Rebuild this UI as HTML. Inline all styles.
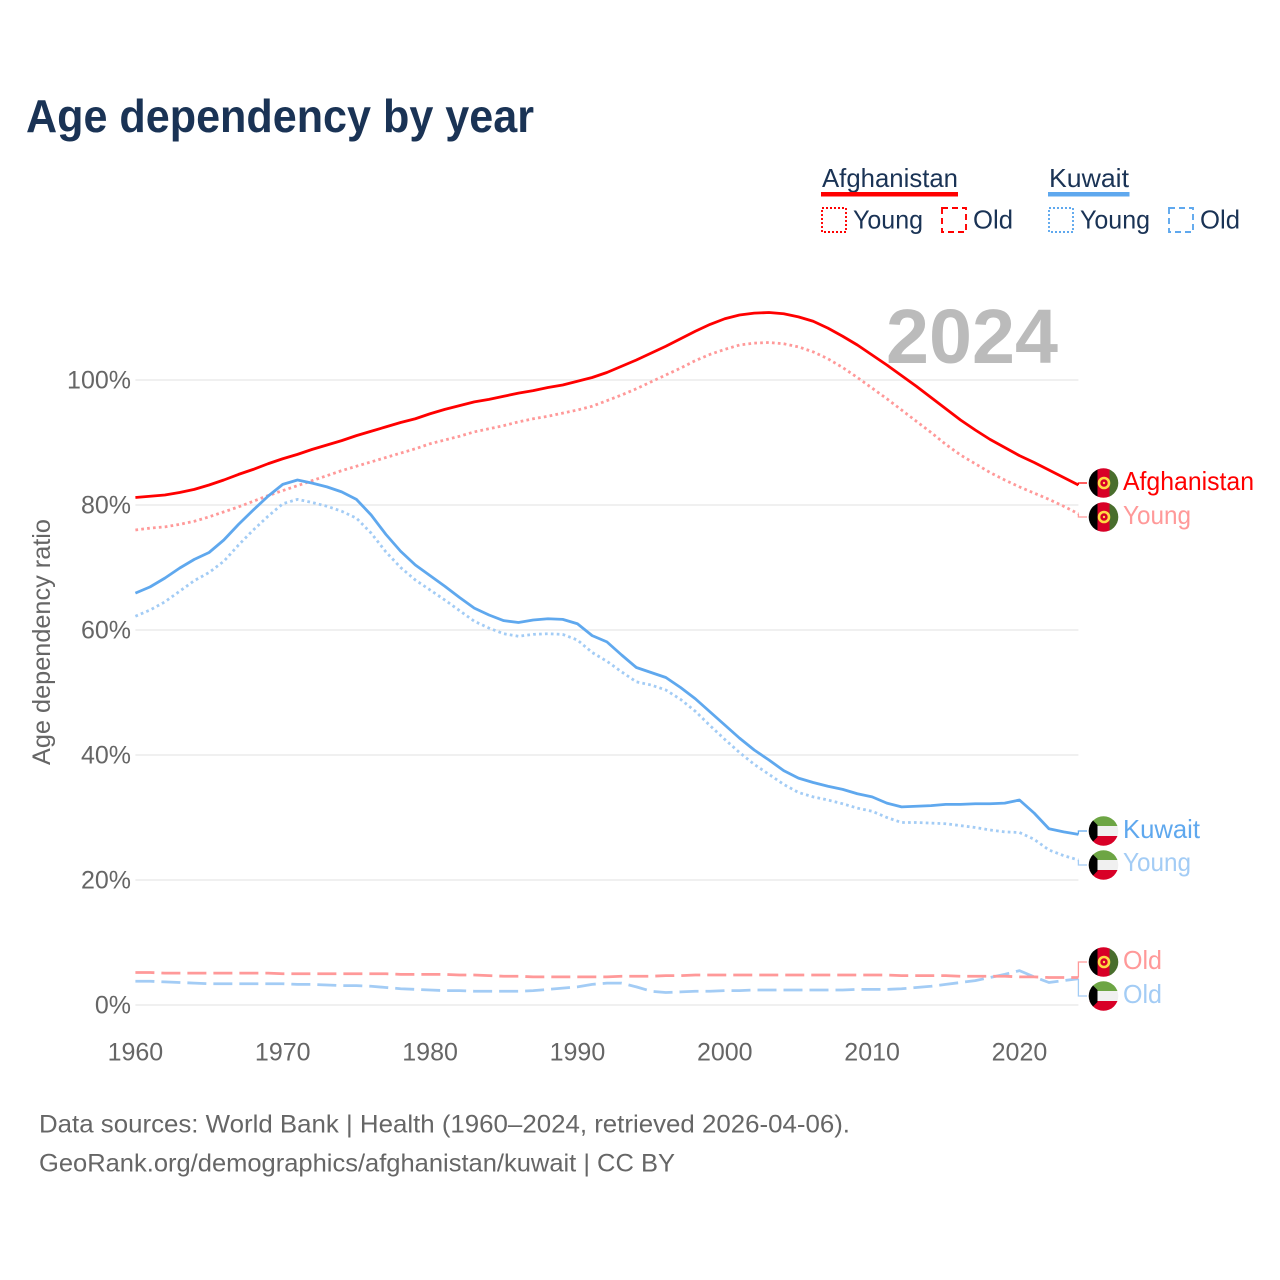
<!DOCTYPE html>
<html lang="en">
<head>
<meta charset="utf-8">
<title>Age dependency by year</title>
<style>
html,body{margin:0;padding:0;background:#fff}
svg{display:block}
text{font-family:"Liberation Sans",sans-serif}
</style>
</head>
<body>
<svg id="chart" xmlns="http://www.w3.org/2000/svg" width="1280" height="1280" viewBox="0 0 1280 1280">
  <defs>
    <clipPath id="flag-clip"><circle cx="0" cy="0" r="14.8"/></clipPath>
    <g id="flag-af" clip-path="url(#flag-clip)">
      <rect x="-15" y="-15" width="10" height="30" fill="#000"/>
      <rect x="-6" y="-15" width="13" height="30" fill="#d80027"/>
      <rect x="6" y="-15" width="9" height="30" fill="#496e2d"/>
      <circle cx="0.5" cy="0" r="5" fill="none" stroke="#ffda44" stroke-width="2.6"/>
      <circle cx="0.5" cy="0" r="1.2" fill="#ffda44"/>
    </g>
    <g id="flag-kw" clip-path="url(#flag-clip)">
      <rect x="-15" y="-15" width="30" height="10" fill="#6da544"/>
      <rect x="-15" y="-5" width="30" height="10" fill="#f0f0f0"/>
      <rect x="-15" y="5" width="30" height="10" fill="#d80027"/>
      <polygon points="-15,-15 -6,-6 -6,6 -15,15" fill="#000"/>
    </g>
  </defs>

  <text x="26" y="132" font-size="46" font-weight="700" fill="#1a3355" textLength="508" lengthAdjust="spacingAndGlyphs">Age dependency by year</text>

  <g font-size="26" fill="#1a3355">
    <text x="822" y="187" textLength="136" lengthAdjust="spacingAndGlyphs">Afghanistan</text>
    <rect x="821" y="192" width="137" height="4.5" fill="#ff0000"/>
    <rect x="822" y="208" width="24" height="24" fill="none" stroke="#ff0000" stroke-width="1.9" stroke-dasharray="2 2"/>
    <text x="853" y="228.500" textLength="70" lengthAdjust="spacingAndGlyphs">Young</text>
    <rect x="942" y="208" width="24" height="24" fill="none" stroke="#ff0000" stroke-width="1.9" stroke-dasharray="6 4"/>
    <text x="973" y="228.500" textLength="40" lengthAdjust="spacingAndGlyphs">Old</text>
    <text x="1049" y="187" textLength="80" lengthAdjust="spacingAndGlyphs">Kuwait</text>
    <rect x="1048" y="192" width="81.500" height="4.5" fill="#5fa8ee"/>
    <rect x="1049" y="208" width="24" height="24" fill="none" stroke="#5fa8ee" stroke-width="1.9" stroke-dasharray="2 2"/>
    <text x="1080" y="228.500" textLength="70" lengthAdjust="spacingAndGlyphs">Young</text>
    <rect x="1169" y="208" width="24" height="24" fill="none" stroke="#5fa8ee" stroke-width="1.9" stroke-dasharray="6 4"/>
    <text x="1200" y="228.500" textLength="40" lengthAdjust="spacingAndGlyphs">Old</text>
  </g>

  <g id="grid"></g>
  <text x="1058" y="363" font-size="77" font-weight="700" fill="#bbbbbb" text-anchor="end" textLength="172" lengthAdjust="spacingAndGlyphs">2024</text>
  <text transform="translate(50 642) rotate(-90)" font-size="25" fill="#666666" text-anchor="middle" textLength="246" lengthAdjust="spacingAndGlyphs">Age dependency ratio</text>
  <g id="y-ticks" font-size="25" fill="#666666" text-anchor="end"></g>
  <g id="x-ticks" font-size="25" fill="#666666" text-anchor="middle"></g>
  <g id="series" fill="none" stroke-linejoin="round"></g>
  <g id="connectors" fill="none"></g>

  <g font-size="26">
    <use href="#flag-af" x="1103.5" y="483"/>
    <text x="1123" y="490" fill="#ff0000" textLength="131" lengthAdjust="spacingAndGlyphs">Afghanistan</text>
    <use href="#flag-af" x="1103.5" y="517"/>
    <text x="1123" y="524" fill="#ff9999" textLength="68" lengthAdjust="spacingAndGlyphs">Young</text>
    <use href="#flag-kw" x="1103.5" y="831"/>
    <text x="1123" y="838" fill="#5fa8ee" textLength="77" lengthAdjust="spacingAndGlyphs">Kuwait</text>
    <use href="#flag-kw" x="1103.5" y="865"/>
    <text x="1123" y="871" fill="#a3ccf5" textLength="68" lengthAdjust="spacingAndGlyphs">Young</text>
    <use href="#flag-af" x="1103.5" y="962"/>
    <text x="1123" y="969" fill="#ff9999" textLength="39" lengthAdjust="spacingAndGlyphs">Old</text>
    <use href="#flag-kw" x="1103.5" y="996"/>
    <text x="1123" y="1003" fill="#a3ccf5" textLength="39" lengthAdjust="spacingAndGlyphs">Old</text>
  </g>

  <text x="39" y="1132.500" font-size="25" fill="#666666" textLength="811" lengthAdjust="spacingAndGlyphs">Data sources: World Bank | Health (1960–2024, retrieved 2026-04-06).</text>
  <text x="39" y="1171.500" font-size="25" fill="#666666" textLength="636" lengthAdjust="spacingAndGlyphs">GeoRank.org/demographics/afghanistan/kuwait | CC BY</text>
</svg>
<script>
const startYear = 1960;
const endYear = 2024;
const yTickValues = [0, 20, 40, 60, 80, 100];
const yTickLabels = ["0%", "20%", "40%", "60%", "80%", "100%"];
const xTickValues = [1960, 1970, 1980, 1990, 2000, 2010, 2020];
const xTickLabels = ["1960", "1970", "1980", "1990", "2000", "2010", "2020"];

const afghanistanTotal = [81.2,81.4,81.6,82.0,82.5,83.2,84.0,84.9,85.7,86.6,87.4,88.1,88.9,89.6,90.3,91.1,91.8,92.5,93.2,93.8,94.6,95.3,95.9,96.5,96.9,97.4,97.9,98.3,98.8,99.2,99.8,100.4,101.2,102.2,103.2,104.3,105.4,106.6,107.8,108.9,109.8,110.4,110.7,110.8,110.6,110.1,109.4,108.3,107.0,105.6,104.0,102.4,100.7,99.0,97.2,95.4,93.6,92.0,90.5,89.2,87.9,86.8,85.6,84.4,83.2];
const afghanistanYoung = [76.0,76.3,76.5,76.9,77.4,78.1,78.9,79.7,80.6,81.5,82.3,83.1,83.9,84.7,85.5,86.2,86.9,87.6,88.3,89.0,89.8,90.4,91.0,91.7,92.2,92.7,93.3,93.8,94.2,94.7,95.2,95.8,96.7,97.6,98.6,99.7,100.8,101.9,103.1,104.1,104.9,105.6,105.9,106.0,105.8,105.3,104.5,103.4,102.0,100.4,98.7,97.0,95.2,93.4,91.6,89.7,88.0,86.6,85.2,84.0,82.9,81.9,80.9,79.8,78.6];
const afghanistanOld = [5.2,5.2,5.1,5.1,5.1,5.1,5.1,5.1,5.1,5.1,5.0,5.0,5.0,5.0,5.0,5.0,5.0,5.0,4.9,4.9,4.9,4.9,4.8,4.8,4.7,4.6,4.6,4.5,4.5,4.5,4.5,4.5,4.5,4.6,4.6,4.6,4.7,4.7,4.8,4.8,4.8,4.8,4.8,4.8,4.8,4.8,4.8,4.8,4.8,4.8,4.8,4.8,4.7,4.7,4.7,4.7,4.6,4.6,4.6,4.6,4.5,4.5,4.4,4.4,4.4];
const kuwaitTotal = [65.9,66.9,68.3,69.9,71.3,72.4,74.4,76.9,79.2,81.4,83.3,84.0,83.5,82.9,82.1,80.9,78.4,75.3,72.6,70.4,68.7,67.0,65.2,63.5,62.4,61.5,61.2,61.6,61.8,61.7,61.0,59.1,58.1,56.0,54.0,53.2,52.4,50.8,49.0,46.9,44.8,42.7,40.8,39.2,37.5,36.3,35.6,35.0,34.5,33.8,33.3,32.3,31.7,31.8,31.9,32.1,32.1,32.2,32.2,32.3,32.8,30.7,28.2,27.7,27.3];
const kuwaitYoung = [62.2,63.2,64.5,66.2,67.9,69.2,71.0,73.6,76.0,78.2,80.2,80.9,80.4,79.8,79.0,77.9,75.5,72.5,70.0,68.0,66.4,64.8,63.1,61.4,60.3,59.4,59.0,59.3,59.4,59.3,58.4,56.4,55.0,53.3,51.7,51.2,50.4,48.9,47.0,44.7,42.5,40.4,38.5,36.9,35.3,34.0,33.3,32.8,32.2,31.5,31.0,30.0,29.2,29.2,29.1,29.0,28.7,28.4,28.0,27.7,27.6,26.5,24.8,23.9,23.2];
const kuwaitOld = [3.8,3.8,3.7,3.6,3.5,3.4,3.4,3.4,3.4,3.4,3.4,3.3,3.3,3.2,3.1,3.1,3.0,2.8,2.6,2.5,2.4,2.3,2.3,2.2,2.2,2.2,2.2,2.3,2.5,2.7,2.9,3.3,3.5,3.5,2.9,2.2,2.0,2.1,2.2,2.2,2.3,2.3,2.4,2.4,2.4,2.4,2.4,2.4,2.4,2.5,2.5,2.5,2.6,2.8,3.0,3.3,3.6,3.9,4.4,4.9,5.5,4.5,3.6,3.9,4.2];

const plotLeft = 135.4, plotRight = 1078.4, plotZeroY = 1005, pxPerPercent = 6.25;
const NS = "http://www.w3.org/2000/svg";

function xScale(year) {
  return plotLeft + (year - startYear) * (plotRight - plotLeft) / (endYear - startYear);
}
function yScale(value) {
  return plotZeroY - value * pxPerPercent;
}
function makeEl(tag, parentId) {
  const el = document.createElementNS(NS, tag);
  document.getElementById(parentId).appendChild(el);
  return el;
}
function linePath(values) {
  return values.map(function (v, i) {
    return (i ? "L" : "M") + xScale(startYear + i).toFixed(2) + " " + yScale(v).toFixed(2);
  }).join("");
}

yTickValues.forEach(function (v, i) {
  const grid = makeEl("line", "grid");
  
  
  grid.setAttribute("x1", plotLeft);
  grid.setAttribute("x2", plotRight);
  grid.setAttribute("y1", yScale(v));
  grid.setAttribute("y2", yScale(v));
  grid.setAttribute("stroke", "#e8e8e8");
  grid.setAttribute("stroke-width", "1.3");
  const label = makeEl("text", "y-ticks");
  
  
  label.setAttribute("x", 131);
  label.setAttribute("y", yScale(v) + 8.5);
  label.textContent = yTickLabels[i];
});

xTickValues.forEach(function (v, i) {
  const label = makeEl("text", "x-ticks");
  
  
  label.setAttribute("x", xScale(v));
  label.setAttribute("y", 1060.5);
  label.textContent = xTickLabels[i];
});

function drawSeries(values, color, dash, width, seriesName) {
  const p = makeEl("path", "series");
  
  
  p.setAttribute("d", linePath(values));
  p.setAttribute("stroke", color);
  p.setAttribute("stroke-width", width);
  if (dash) p.setAttribute("stroke-dasharray", dash);
}
drawSeries(kuwaitOld, "#a3ccf5", "19 7", 2.8, "line-kuwait-old");
drawSeries(afghanistanOld, "#ff9999", "19 7", 2.8, "line-afghanistan-old");
drawSeries(kuwaitYoung, "#a3ccf5", "2.7 3.2", 2.8, "line-kuwait-young");
drawSeries(afghanistanYoung, "#ff9999", "2.7 3.2", 2.8, "line-afghanistan-young");
drawSeries(kuwaitTotal, "#5fa8ee", "", 2.8, "line-kuwait-total");
drawSeries(afghanistanTotal, "#ff0000", "", 2.8, "line-afghanistan-total");

function drawConnector(values, labelY, color, connectorName) {
  const c = makeEl("path", "connectors");
  
  
  const endY = yScale(values[values.length - 1]);
  c.setAttribute("d", "M" + plotRight + " " + endY.toFixed(2) + "V" + labelY + "H1087");
  c.setAttribute("stroke", color);
  c.setAttribute("stroke-width", "1.3");
}
drawConnector(afghanistanTotal, 483, "#ff0000", "connector-afghanistan-total");
drawConnector(afghanistanYoung, 517, "#ff9999", "connector-afghanistan-young");
drawConnector(kuwaitTotal, 831, "#5fa8ee", "connector-kuwait-total");
drawConnector(kuwaitYoung, 865, "#a3ccf5", "connector-kuwait-young");
drawConnector(afghanistanOld, 962, "#ff9999", "connector-afghanistan-old");
drawConnector(kuwaitOld, 996, "#a3ccf5", "connector-kuwait-old");
</script>
</body>
</html>
